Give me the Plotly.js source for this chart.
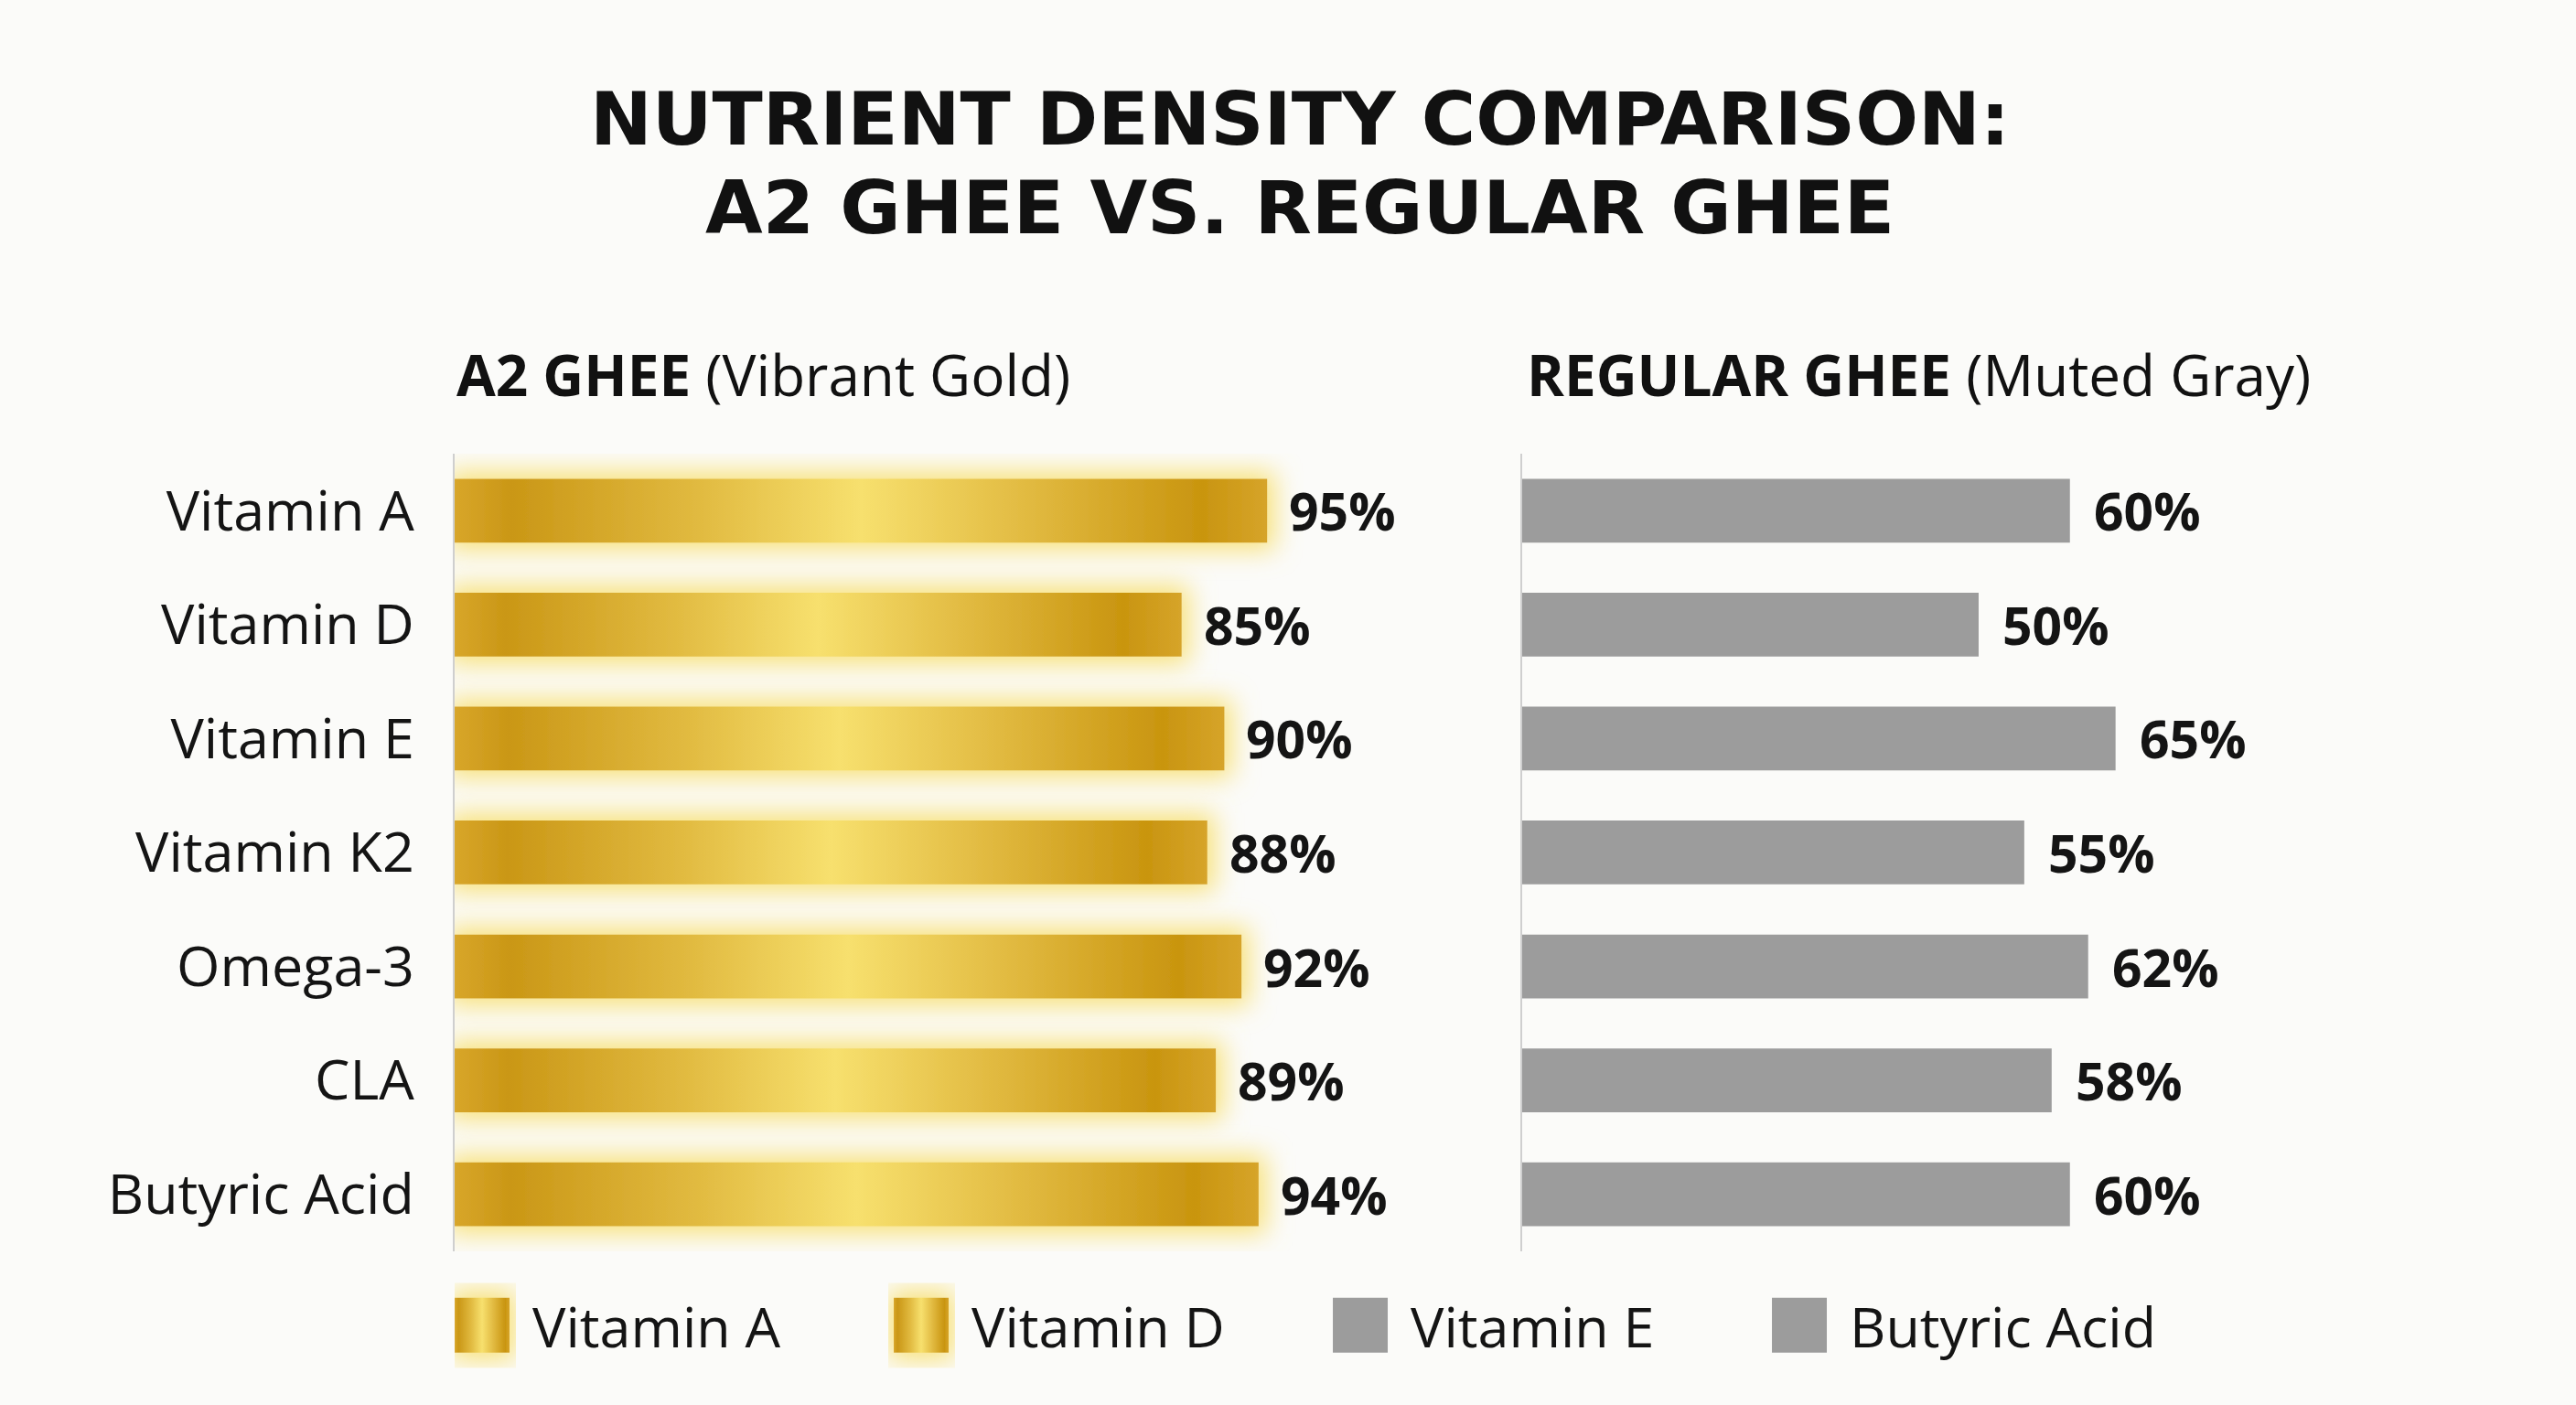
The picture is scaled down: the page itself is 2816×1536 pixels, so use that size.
<!DOCTYPE html>
<html>
<head>
<meta charset="utf-8">
<script src="https://cdn.plot.ly/plotly-3.0.1.min.js"></script>
<style>
  html, body { margin: 0; padding: 0; background: #fbfbf9; }
  #chart { width: 2816px; height: 1536px; }
</style>
</head>
<body>
<div id="chart"></div>
<script>
var nutrients = ['Vitamin A', 'Vitamin D', 'Vitamin E', 'Vitamin K2', 'Omega-3', 'CLA', 'Butyric Acid'];
var a2Values = [95, 85, 90, 88, 92, 89, 94];
var regularValues = [60, 50, 65, 55, 62, 58, 60];

var legendNames = ['Vitamin A', 'Vitamin D', 'Vitamin E', 'Butyric Acid'];
var legendGold = [true, true, false, false];

var titleLines = ['NUTRIENT DENSITY COMPARISON:', 'A2 GHEE VS. REGULAR GHEE'];

var GOLD = '#dcae2e';
var GRAY = '#9c9c9c';
var FONT = 'Open Sans, Liberation Sans, sans-serif';
var TITLE_FONT = 'DejaVu Sans, sans-serif';

var trace_a2 = {
  type: 'bar',
  orientation: 'h',
  x: a2Values,
  y: nutrients,
  xaxis: 'x',
  yaxis: 'y',
  width: 0.56,
  marker: {color: GOLD},
  showlegend: false,
  hoverinfo: 'none'
};

var trace_regular = {
  type: 'bar',
  orientation: 'h',
  x: regularValues,
  y: nutrients,
  xaxis: 'x2',
  yaxis: 'y2',
  width: 0.56,
  marker: {color: GRAY},
  showlegend: false,
  hoverinfo: 'none'
};

// legend only entries
var legendTraces = legendNames.map(function(name, i) {
  return {
    type: 'bar',
    orientation: 'h',
    x: [null],
    y: [null],
    name: name,
    marker: {color: legendGold[i] ? GOLD : GRAY},
    showlegend: true,
    hoverinfo: 'none'
  };
});

var data = [trace_a2, trace_regular].concat(legendTraces);

// value labels
var annotations = [];
for (let i = 0; i < nutrients.length; i++) {
  annotations.push({
    xref: 'x', yref: 'y', x: a2Values[i], y: nutrients[i],
    text: a2Values[i] + '%', showarrow: false, xanchor: 'left', xshift: 22,
    font: {family: FONT, size: 57, color: '#141414', weight: 'bold'}
  });
  annotations.push({
    xref: 'x2', yref: 'y2', x: regularValues[i], y: nutrients[i],
    text: regularValues[i] + '%', showarrow: false, xanchor: 'left', xshift: 24,
    font: {family: FONT, size: 57, color: '#141414', weight: 'bold'}
  });
}

// heading, one annotation per line
var titleY = [0.9154, 0.8522];
titleLines.forEach(function(line, i) {
  annotations.push({
    xref: 'paper', yref: 'paper', x: 0.5046, y: titleY[i], yanchor: 'middle',
    text: '<b>' + line + '</b>', showarrow: false,
    font: {family: TITLE_FONT, size: 81, color: '#111111'}
  });
});

annotations.push({
  xref: 'paper', yref: 'paper', x: 0.1765, y: 0.734, xanchor: 'left', yanchor: 'middle',
  text: '<b>A2 GHEE</b> (Vibrant Gold)', showarrow: false,
  font: {family: FONT, size: 62, color: '#111111'}
});
annotations.push({
  xref: 'paper', yref: 'paper', x: 0.5918, y: 0.734, xanchor: 'left', yanchor: 'middle',
  text: '<b>REGULAR GHEE</b> (Muted Gray)', showarrow: false,
  font: {family: FONT, size: 62, color: '#111111'}
});

var yaxisBase = {
  type: 'category',
  categoryarray: nutrients,
  range: [6.5, -0.5],
  domain: [0.1094, 0.6771],
  showgrid: false,
  zeroline: false,
  showline: true,
  linecolor: '#cfcfcf',
  linewidth: 2,
  fixedrange: true
};

var layout = {
  width: 2816,
  height: 1536,
  paper_bgcolor: '#fbfbf9',
  plot_bgcolor: 'rgba(0,0,0,0)',
  margin: {l: 0, r: 0, t: 0, b: 0},
  barmode: 'overlay',
  showlegend: true,
  font: {family: FONT, color: '#141414'},
  xaxis: {domain: [0.1765, 0.5085], range: [0, 100], visible: false, fixedrange: true},
  xaxis2: {domain: [0.5909, 0.9453], range: [0, 100], visible: false, fixedrange: true},
  yaxis: Object.assign({}, yaxisBase, {
    anchor: 'x',
    ticks: '',
    ticklabelstandoff: 30,
    tickfont: {family: FONT, size: 61, color: '#141414'}
  }),
  yaxis2: Object.assign({}, yaxisBase, {
    anchor: 'x2',
    showticklabels: false
  }),
  legend: {
    orientation: 'h',
    x: 0.1765,
    xanchor: 'left',
    y: 0.0566,
    yanchor: 'middle',
    itemwidth: 75,
    entrywidth: 390,
    bgcolor: 'rgba(0,0,0,0)',
    font: {family: FONT, size: 61, color: '#141414'},
    itemclick: false,
    itemdoubleclick: false
  },
  annotations: annotations
};

var SVGNS = 'http://www.w3.org/2000/svg';

function addDefs(gd) {
  var svg = gd.querySelector('.main-svg');
  var defs = svg.querySelector('defs');
  var tmp = document.createElementNS(SVGNS, 'svg');
  tmp.innerHTML =
    '<linearGradient id="goldGrad" x1="0" y1="0" x2="1" y2="0">' +
      '<stop offset="0" stop-color="#d8a62a"/>' +
      '<stop offset="0.07" stop-color="#ca9716"/>' +
      '<stop offset="0.3" stop-color="#e1ba40"/>' +
      '<stop offset="0.5" stop-color="#f7e06e"/>' +
      '<stop offset="0.7" stop-color="#e2bb42"/>' +
      '<stop offset="0.92" stop-color="#c9950f"/>' +
      '<stop offset="1" stop-color="#d6a42a"/>' +
    '</linearGradient>' +
    '<filter id="goldGlow" x="-10%" y="-90%" width="120%" height="280%">' +
      '<feMorphology in="SourceAlpha" operator="dilate" radius="8" result="d"/>' +
      '<feFlood flood-color="#f8df6c" flood-opacity="0.9"/>' +
      '<feComposite in2="d" operator="in" result="c"/>' +
      '<feGaussianBlur in="c" stdDeviation="14" result="b"/>' +
      '<feMerge><feMergeNode in="b"/><feMergeNode in="SourceGraphic"/></feMerge>' +
    '</filter>';
  while (tmp.firstChild) defs.appendChild(tmp.firstChild);
}

function styleGold(gd) {
  var bars = gd.querySelectorAll('.subplot.xy .barlayer .trace:first-child .point path');
  bars.forEach(function(p) {
    p.style.fill = 'url(#goldGrad)';
    p.setAttribute('filter', 'url(#goldGlow)');
  });

  // bigger square swatches in the legend
  var items = gd.querySelectorAll('.legend .traces');
  items.forEach(function(g, i) {
    var txt = g.querySelector('.legendtext');
    var tx = parseFloat(txt.getAttribute('x')) || 0;
    var sym = g.querySelector('.legendpoints path');
    if (!sym) return;
    sym.removeAttribute('transform');
    sym.setAttribute('d', 'M' + (tx - 85) + ',-30h60v60h-60Z');
    if (legendGold[i]) {
      sym.style.fill = 'url(#goldGrad)';
      sym.setAttribute('filter', 'url(#goldGlow)');
    }
  });
}

var gd = document.getElementById('chart');
Plotly.newPlot(gd, data, layout, {staticPlot: true, displayModeBar: false}).then(function() {
  addDefs(gd);
  styleGold(gd);
});
</script>
</body>
</html>
